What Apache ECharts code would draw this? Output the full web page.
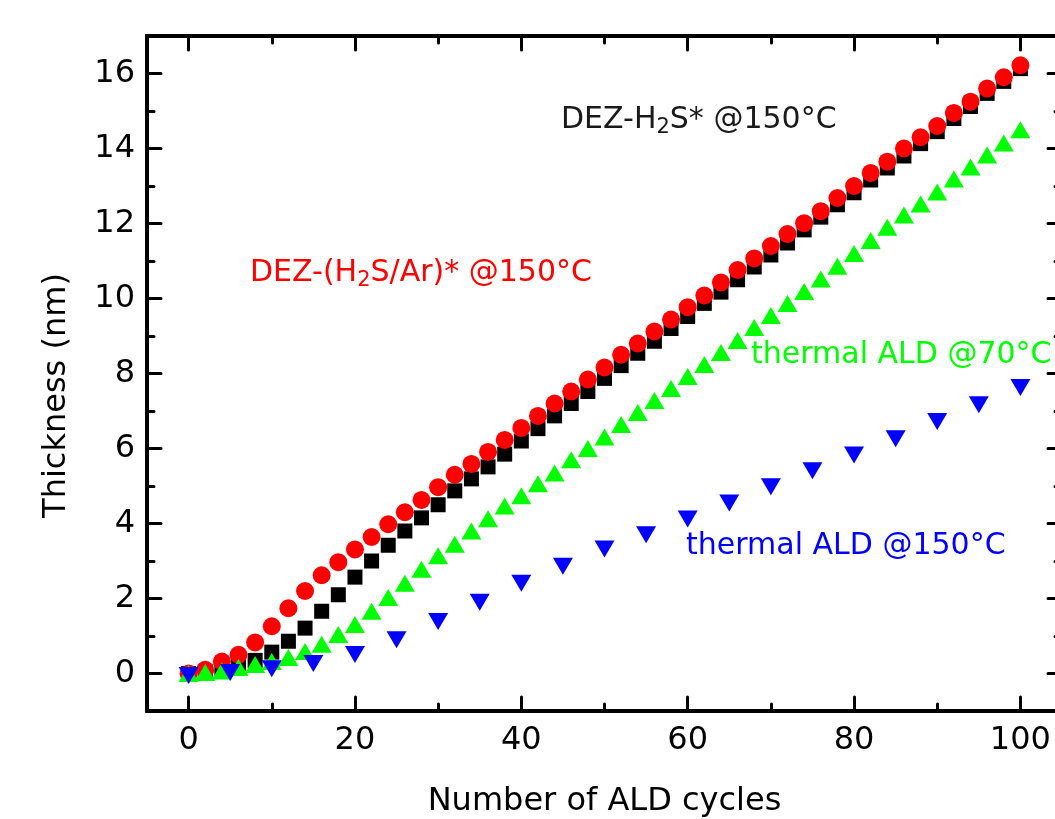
<!DOCTYPE html>
<html>
<head>
<meta charset="utf-8">
<script src="https://cdn.jsdelivr.net/npm/echarts@6/dist/echarts.min.js"></script>
<style>
    html, body { margin: 0; padding: 0; background: #fff; }
    #chart { width: 1055px; height: 819px; }
</style>
</head>
<body>
<div id="chart"></div>
<script>
// cycles for the three dense series (every 2 cycles)
const cyclesEven = [0, 2, 4, 6, 8, 10, 12, 14, 16, 18, 20, 22, 24, 26, 28, 30, 32, 34, 36, 38, 40,
    42, 44, 46, 48, 50, 52, 54, 56, 58, 60, 62, 64, 66, 68, 70, 72, 74, 76, 78, 80,
    82, 84, 86, 88, 90, 92, 94, 96, 98, 100];
// cycles for thermal ALD @150C (every 5 cycles)
const cyclesFive = [0, 5, 10, 15, 20, 25, 30, 35, 40, 45, 50, 55, 60, 65, 70, 75, 80, 85, 90, 95, 100];

const dezH2S = [0, 0.05, 0.15, 0.27, 0.35, 0.57, 0.86, 1.21, 1.66, 2.1, 2.57, 3.0, 3.42, 3.8, 4.15, 4.5,
    4.87, 5.19, 5.51, 5.85, 6.2, 6.53, 6.87, 7.2, 7.52, 7.87, 8.21, 8.54, 8.86, 9.2, 9.52, 9.87,
    10.17, 10.5, 10.84, 11.16, 11.48, 11.83, 12.17, 12.5, 12.82, 13.16, 13.48, 13.8, 14.13, 14.45,
    14.8, 15.12, 15.47, 15.79, 16.13];
const dezH2SAr = [0, 0.1, 0.32, 0.5, 0.83, 1.26, 1.74, 2.2, 2.62, 2.97, 3.31, 3.64, 3.98, 4.3, 4.63, 4.97,
    5.3, 5.59, 5.91, 6.23, 6.55, 6.87, 7.2, 7.52, 7.84, 8.16, 8.5, 8.8, 9.12, 9.44, 9.77, 10.08,
    10.43, 10.76, 11.07, 11.4, 11.72, 12.01, 12.33, 12.68, 13.0, 13.35, 13.65, 14.0, 14.3, 14.6,
    14.95, 15.25, 15.6, 15.9, 16.22];
const thermal70 = [0, 0.03, 0.07, 0.16, 0.24, 0.32, 0.43, 0.59, 0.78, 1.04, 1.31, 1.66, 2.03, 2.41, 2.78, 3.14,
    3.45, 3.8, 4.13, 4.47, 4.74, 5.06, 5.35, 5.7, 6.0, 6.31, 6.64, 6.96, 7.28, 7.6, 7.92, 8.24,
    8.56, 8.88, 9.23, 9.55, 9.87, 10.19, 10.52, 10.86, 11.2, 11.55, 11.9, 12.23, 12.52, 12.84,
    13.19, 13.51, 13.83, 14.15, 14.5];
const thermal150 = [-0.05, 0.03, 0.13, 0.27, 0.51, 0.9, 1.39, 1.9, 2.41, 2.86, 3.32, 3.7, 4.12, 4.55,
    4.98, 5.41, 5.83, 6.26, 6.72, 7.17, 7.63];

// tick positions
const xMajorTicks = [0, 20, 40, 60, 80, 100];
const xMinorTicks = [10, 30, 50, 70, 90];
const yMajorTicks = [0, 2, 4, 6, 8, 10, 12, 14, 16];
const yMinorTicks = [-1, 1, 3, 5, 7, 9, 11, 13, 15];

const FONT = 'DejaVu Sans';

function pairs(xs, ys) {
    return xs.map((x, i) => [x, ys[i]]);
}

function xAxisOf(position, ticks, len, labels) {
    return {
        type: 'value', position: position, min: -5, max: 105,
        axisLine: { show: true, onZero: false, lineStyle: { color: '#000', width: 4 } },
        axisTick: { show: true, inside: true, length: len, customValues: ticks, lineStyle: { color: '#000', width: 3, cap: 'round' } },
        axisLabel: labels ? { show: true, customValues: ticks, fontSize: 32, fontFamily: FONT, color: '#000', margin: 14 } : { show: false },
        splitLine: { show: false }
    };
}

function yAxisOf(position, ticks, len, labels) {
    return {
        type: 'value', position: position, min: -1, max: 17,
        axisLine: { show: true, onZero: false, lineStyle: { color: '#000', width: 4 } },
        axisTick: { show: true, inside: true, length: len, customValues: ticks, lineStyle: { color: '#000', width: 3, cap: 'round' } },
        axisLabel: labels ? { show: true, customValues: ticks, fontSize: 32, fontFamily: FONT, color: '#000', margin: 12 } : { show: false },
        splitLine: { show: false }
    };
}

const chart = echarts.init(document.getElementById('chart'));

const xMain = xAxisOf('bottom', xMajorTicks, 14, true);
xMain.name = 'Number of ALD cycles';
xMain.nameLocation = 'middle';
xMain.nameGap = 75;
xMain.nameTextStyle = { fontSize: 32, fontFamily: FONT, color: '#000' };

const yMain = yAxisOf('left', yMajorTicks, 14, true);
yMain.name = 'Thickness (nm)';
yMain.nameLocation = 'middle';
yMain.nameGap = 74;
yMain.nameTextStyle = { fontSize: 32, fontFamily: FONT, color: '#000', padding: [0, 44, 0, 0] };

function note(text, x, y, color) {
    return {
        type: 'text', x: x, y: y, z: 10,
        style: {
            text: text, fill: color, font: '30px "DejaVu Sans"',
            verticalAlign: 'middle', align: 'left',
            rich: {
                base: { fontSize: 30, lineHeight: 36, fontFamily: FONT, fill: color },
                sub: { fontSize: 21, lineHeight: 21, padding: [16, 0, 0, 0], fontFamily: FONT, fill: color }
            }
        }
    };
}

const option = {
    animation: false,
    backgroundColor: '#fff',
    grid: { left: 147, width: 915, top: 36, bottom: 108, outerBoundsMode: 'none', containLabel: false },
    xAxis: [
        xMain,
        xAxisOf('bottom', xMinorTicks, 7, false),
        xAxisOf('top', xMajorTicks, 14, false),
        xAxisOf('top', xMinorTicks, 7, false)
    ],
    yAxis: [
        yMain,
        yAxisOf('left', yMinorTicks, 7, false),
        yAxisOf('right', yMajorTicks, 14, false),
        yAxisOf('right', yMinorTicks, 7, false)
    ],
    series: [
        {
            name: 'DEZ-H2S* @150°C', type: 'scatter', symbol: 'rect', symbolSize: 15,
            itemStyle: { color: '#000', opacity: 1 }, data: pairs(cyclesEven, dezH2S)
        },
        {
            name: 'DEZ-(H2S/Ar)* @150°C', type: 'scatter', symbol: 'circle', symbolSize: 18,
            itemStyle: { color: '#ff0000', opacity: 1 }, data: pairs(cyclesEven, dezH2SAr)
        },
        {
            name: 'thermal ALD @70°C', type: 'scatter', symbol: 'triangle', symbolSize: [20, 17],
            itemStyle: { color: '#00ff00', opacity: 1 }, data: pairs(cyclesEven, thermal70)
        },
        {
            name: 'thermal ALD @150°C', type: 'scatter', symbol: 'triangle', symbolRotate: 180, symbolSize: [20, 17],
            itemStyle: { color: '#0000ff', opacity: 1 }, data: pairs(cyclesFive, thermal150)
        }
    ],
    graphic: [
        note('{base|DEZ-H}{sub|2}{base|S* @150°C}', 561, 120, '#1a1a1a'),
        note('{base|DEZ-(H}{sub|2}{base|S/Ar)* @150°C}', 250, 273, '#ff0000'),
        note('{base|thermal ALD @70°C}', 751, 355, '#00ff00'),
        note('{base|thermal ALD @150°C}', 686, 546, '#0000ff')
    ]
};

chart.setOption(option);
</script>
</body>
</html>
